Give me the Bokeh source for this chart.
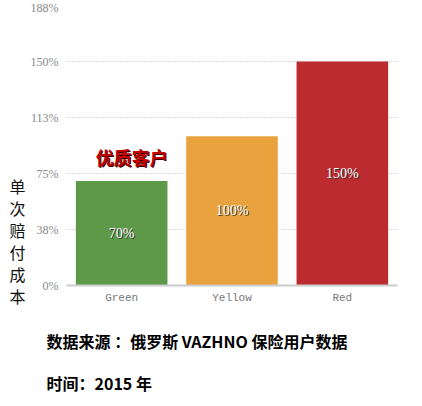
from bokeh.plotting import figure
from bokeh.models import FixedTicker
from bokeh.layouts import column, row
from bokeh.core.properties import value
from bokeh.embed import file_html
from bokeh.resources import INLINE

categories = ["Green", "Yellow", "Red"]
values = [70, 100, 150]
bar_colors = ["#5e994a", "#e8a33e", "#bc2b30"]
bar_labels = ["70%", "100%", "150%"]
y_ticks = [0, 37.5, 75, 112.5, 150, 187.5]
y_tick_labels = ["0%", "38%", "75%", "113%", "150%", "188%"]
y_axis_title = "单次赔付成本"
highlight_text = "优质客户"
source_text = "数据来源 ：俄罗斯 VAZHNO 保险用户数据"
time_text = "时间：2015 年"

LW = 25       # width of the side strip holding the stacked axis title
TOP_H = 315   # height of the chart row
FOOT_H = 83   # height of the footer strip
TOTAL_W = 414
TOTAL_H = TOP_H + FOOT_H


def blank(width, height):
    f = figure(width=width, height=height, x_range=(0, width), y_range=(0, height),
               output_backend="svg", toolbar_location=None, title=None,
               x_axis_type=None, y_axis_type=None,
               min_border_left=0, min_border_right=0, min_border_top=0, min_border_bottom=0)
    f.outline_line_color = None
    f.grid.visible = False
    f.background_fill_color = "white"
    f.border_fill_color = "white"
    return f


# ---- main chart ----
p = figure(x_range=categories, y_range=(0, 187.5), width=TOTAL_W - LW, height=TOP_H,
           output_backend="svg", toolbar_location=None, title=None,
           min_border_left=66 - LW, min_border_right=17, min_border_top=5,
           min_border_bottom=TOP_H - 285)
p.outline_line_color = None
p.background_fill_color = "white"
p.border_fill_color = "white"

p.vbar(x=categories, top=values, width=0.83, color=bar_colors, line_color=None)

mid = [v / 2 for v in values]
p.text(x=categories, y=mid, text=bar_labels, text_align="center", text_baseline="middle",
       text_font=value("Liberation Serif"), text_font_size="14px", text_color="#333333",
       x_offset=1, y_offset=1)
p.text(x=categories, y=mid, text=bar_labels, text_align="center", text_baseline="middle",
       text_font=value("Liberation Serif"), text_font_size="14px", text_color="white")

hy = [values[0] + 15]
p.text(x=[categories[0]], y=hy, text=[highlight_text], text_align="center",
       text_baseline="middle", text_font=value("Noto Sans CJK SC"), text_font_size="18px",
       text_font_style="bold", text_color="#300000", x_offset=11, y_offset=-1)
p.text(x=[categories[0]], y=hy, text=[highlight_text], text_align="center",
       text_baseline="middle", text_font=value("Noto Sans CJK SC"), text_font_size="18px",
       text_font_style="bold", text_color="#c00000", x_offset=10, y_offset=-2)

p.yaxis.ticker = FixedTicker(ticks=y_ticks)
p.yaxis.major_label_overrides = dict(zip(y_ticks, y_tick_labels))
p.yaxis.axis_line_color = None
p.yaxis.major_tick_line_color = None
p.yaxis.minor_tick_line_color = None
p.yaxis.major_tick_out = 0
p.yaxis.major_tick_in = 0
p.yaxis.major_label_text_font = "Liberation Serif"
p.yaxis.major_label_text_font_size = "12px"
p.yaxis.major_label_text_color = "#8a8a8a"
p.yaxis.major_label_standoff = 8

p.xaxis.axis_line_color = "#cccccc"
p.xaxis.axis_line_width = 2
p.xaxis.major_tick_line_color = None
p.xaxis.minor_tick_line_color = None
p.xaxis.major_tick_out = 0
p.xaxis.major_tick_in = 0
p.xaxis.major_label_text_font = "Liberation Mono"
p.xaxis.major_label_text_font_size = "11px"
p.xaxis.major_label_text_color = "#777777"
p.xaxis.major_label_standoff = 6

p.xgrid.grid_line_color = None
p.ygrid.grid_line_color = "#b8b8b8"
p.ygrid.grid_line_dash = "1 2"
p.ygrid.grid_line_width = 1

# ---- stacked vertical axis title (strip on the left) ----
side = blank(LW, TOP_H)
chars = list(y_axis_title)
side.text(x=[17] * len(chars), y=[TOP_H - 185 - 22 * i for i in range(len(chars))],
          text=chars, text_align="center", text_baseline="middle",
          text_font=value("Noto Sans CJK SC"), text_font_size="16px", text_color="#111111")

# ---- footer ----
foot = blank(TOTAL_W, FOOT_H)
foot.text(x=[46, 46], y=[TOTAL_H - 340, TOTAL_H - 382],
          text=[source_text, time_text], text_align="left", text_baseline="middle",
          text_font=value("Noto Sans CJK SC"), text_font_size="16px",
          text_font_style="bold", text_color="black")

layout = column(row(side, column(p), spacing=0), foot, spacing=0)
open("out.html", "w").write(file_html(layout, INLINE))
